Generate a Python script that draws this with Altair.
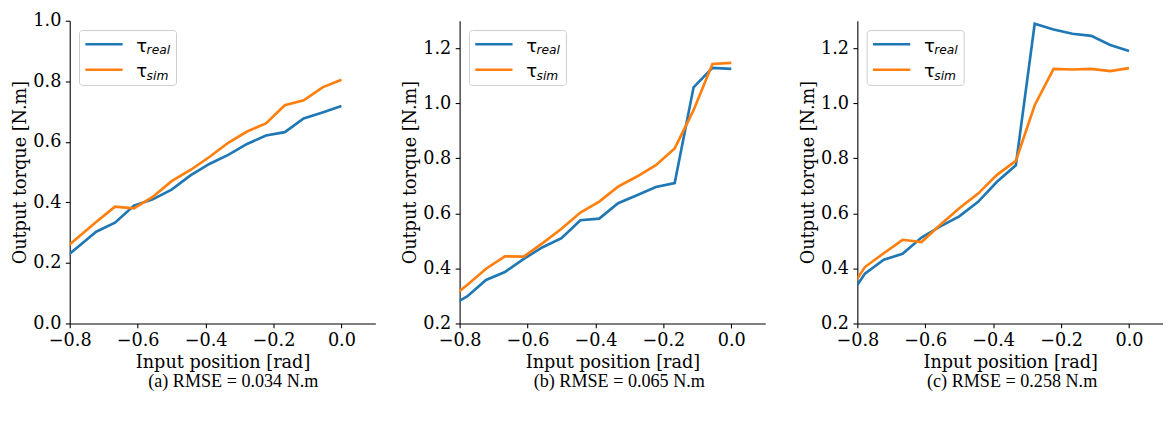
import altair as alt
import pandas as pd

x_vals = [-0.8333, -0.7778, -0.7222, -0.6667, -0.6111, -0.5556, -0.5, -0.4444,
          -0.3889, -0.3333, -0.2778, -0.2222, -0.1667, -0.1111, -0.0556, 0.0]

real_a = [0.200, 0.251, 0.303, 0.333, 0.389, 0.410, 0.442, 0.489,
          0.527, 0.557, 0.593, 0.621, 0.632, 0.677, 0.697, 0.718]
sim_a = [0.229, 0.282, 0.335, 0.386, 0.380, 0.418, 0.470, 0.507,
         0.550, 0.597, 0.634, 0.661, 0.721, 0.737, 0.780, 0.805]

real_b = [0.260, 0.298, 0.358, 0.387, 0.435, 0.477, 0.510, 0.575,
          0.581, 0.637, 0.666, 0.696, 0.710, 1.058, 1.129, 1.125]
sim_b = [0.285, 0.340, 0.399, 0.444, 0.443, 0.492, 0.544, 0.603,
         0.643, 0.697, 0.734, 0.775, 0.836, 0.975, 1.143, 1.147]

real_c = [0.280, 0.381, 0.432, 0.453, 0.512, 0.553, 0.589, 0.642,
          0.715, 0.775, 1.289, 1.268, 1.253, 1.245, 1.212, 1.190]
sim_c = [0.300, 0.405, 0.455, 0.504, 0.496, 0.559, 0.619, 0.672,
         0.740, 0.791, 0.993, 1.125, 1.123, 1.125, 1.117, 1.128]

captions = ["(a) RMSE = 0.034 N.m", "(b) RMSE = 0.065 N.m", "(c) RMSE = 0.258 N.m"]
series_names = ["real", "sim"]
series_colors = ["#1f77b4", "#ff7f0e"]
x_ticks = [-0.8, -0.6, -0.4, -0.2, 0.0]
y_ticks_a = [0.0, 0.2, 0.4, 0.6, 0.8, 1.0]
y_ticks_bc = [0.2, 0.4, 0.6, 0.8, 1.0, 1.2]

W, H = 312, 309
LW = 2.7
SERIF = "'DejaVu Serif', 'Bitstream Vera Serif', serif"


def one_row():
    return alt.Data(values=[{"k": 0}])


def legend_layers():
    layers = []
    layers.append(
        alt.Chart(one_row()).mark_rect(
            fill="white", fillOpacity=0.8, stroke="#cccccc", strokeWidth=1, cornerRadius=3
        ).encode(x=alt.value(10), x2=alt.value(109), y=alt.value(10), y2=alt.value(66))
    )
    for i, (name, col) in enumerate(zip(series_names, series_colors)):
        yy = 24 + 26 * i
        layers.append(
            alt.Chart(one_row()).mark_rule(color=col, strokeWidth=LW).encode(
                x=alt.value(16), x2=alt.value(54), y=alt.value(yy)
            )
        )
        layers.append(
            alt.Chart(one_row()).mark_text(
                text="τ", font="DejaVu Sans", fontSize=18.5, align="left",
                baseline="alphabetic", color="black"
            ).encode(x=alt.value(68), y=alt.value(yy + 7.5))
        )
        layers.append(
            alt.Chart(one_row()).mark_text(
                text=name, font="DejaVu Sans", fontStyle="italic", fontSize=12.5,
                align="left", baseline="alphabetic", color="black"
            ).encode(x=alt.value(78.5), y=alt.value(yy + 10))
        )
    return layers


def panel(real, sim, ydom, yticks, caption, dx):
    df = pd.DataFrame({
        "x": x_vals + x_vals,
        "y": real + sim,
        "series": [series_names[0]] * len(x_vals) + [series_names[1]] * len(x_vals),
    })
    lines = alt.Chart(df).mark_line(clip=True, strokeWidth=LW).encode(
        x=alt.X("x:Q",
                scale=alt.Scale(domain=[-0.8, 0.1], nice=False, zero=False),
                axis=alt.Axis(values=x_ticks, format=".1f",
                              labelExpr="replace(datum.label, '-', '−')",
                              title="Input position [rad]")),
        y=alt.Y("y:Q",
                scale=alt.Scale(domain=ydom, nice=False, zero=False),
                axis=alt.Axis(values=yticks, format=".1f",
                              title="Output torque [N.m]")),
        color=alt.Color("series:N",
                        scale=alt.Scale(domain=series_names, range=series_colors),
                        legend=None),
    )
    return alt.layer(lines, *legend_layers()).properties(
        width=W, height=H,
        title=alt.TitleParams(caption, orient="bottom", font="Liberation Serif",
                              fontSize=18.5, fontWeight="normal", color="black",
                              anchor="middle", frame="group", dx=dx, offset=1),
    )


p1 = panel(real_a, sim_a, [0.0, 1.0], y_ticks_a, captions[0], 11)
p2 = panel(real_b, sim_b, [0.2, 1.3], y_ticks_bc, captions[1], 7)
p3 = panel(real_c, sim_c, [0.2, 1.3], y_ticks_bc, captions[2], 2)

chart = alt.hconcat(alt.hconcat(p1, p2, spacing=27), p3, spacing=35).properties(
    padding={"left": 4, "top": 0, "right": 0, "bottom": 0}
).configure_view(stroke=None).configure_axis(
    grid=False, domainColor="black", tickColor="black", labelColor="black",
    titleColor="black", labelFont=SERIF, titleFont=SERIF,
    labelFontSize=18, titleFontSize=18, titleFontWeight="normal",
    tickSize=4.5, domainWidth=1.1, tickWidth=1.1, labelPadding=4.5, labelFlush=False,
).configure_axisX(titlePadding=4).configure_axisY(titlePadding=3)

chart.save("out.html", embed_options={"renderer": "svg", "actions": False})
